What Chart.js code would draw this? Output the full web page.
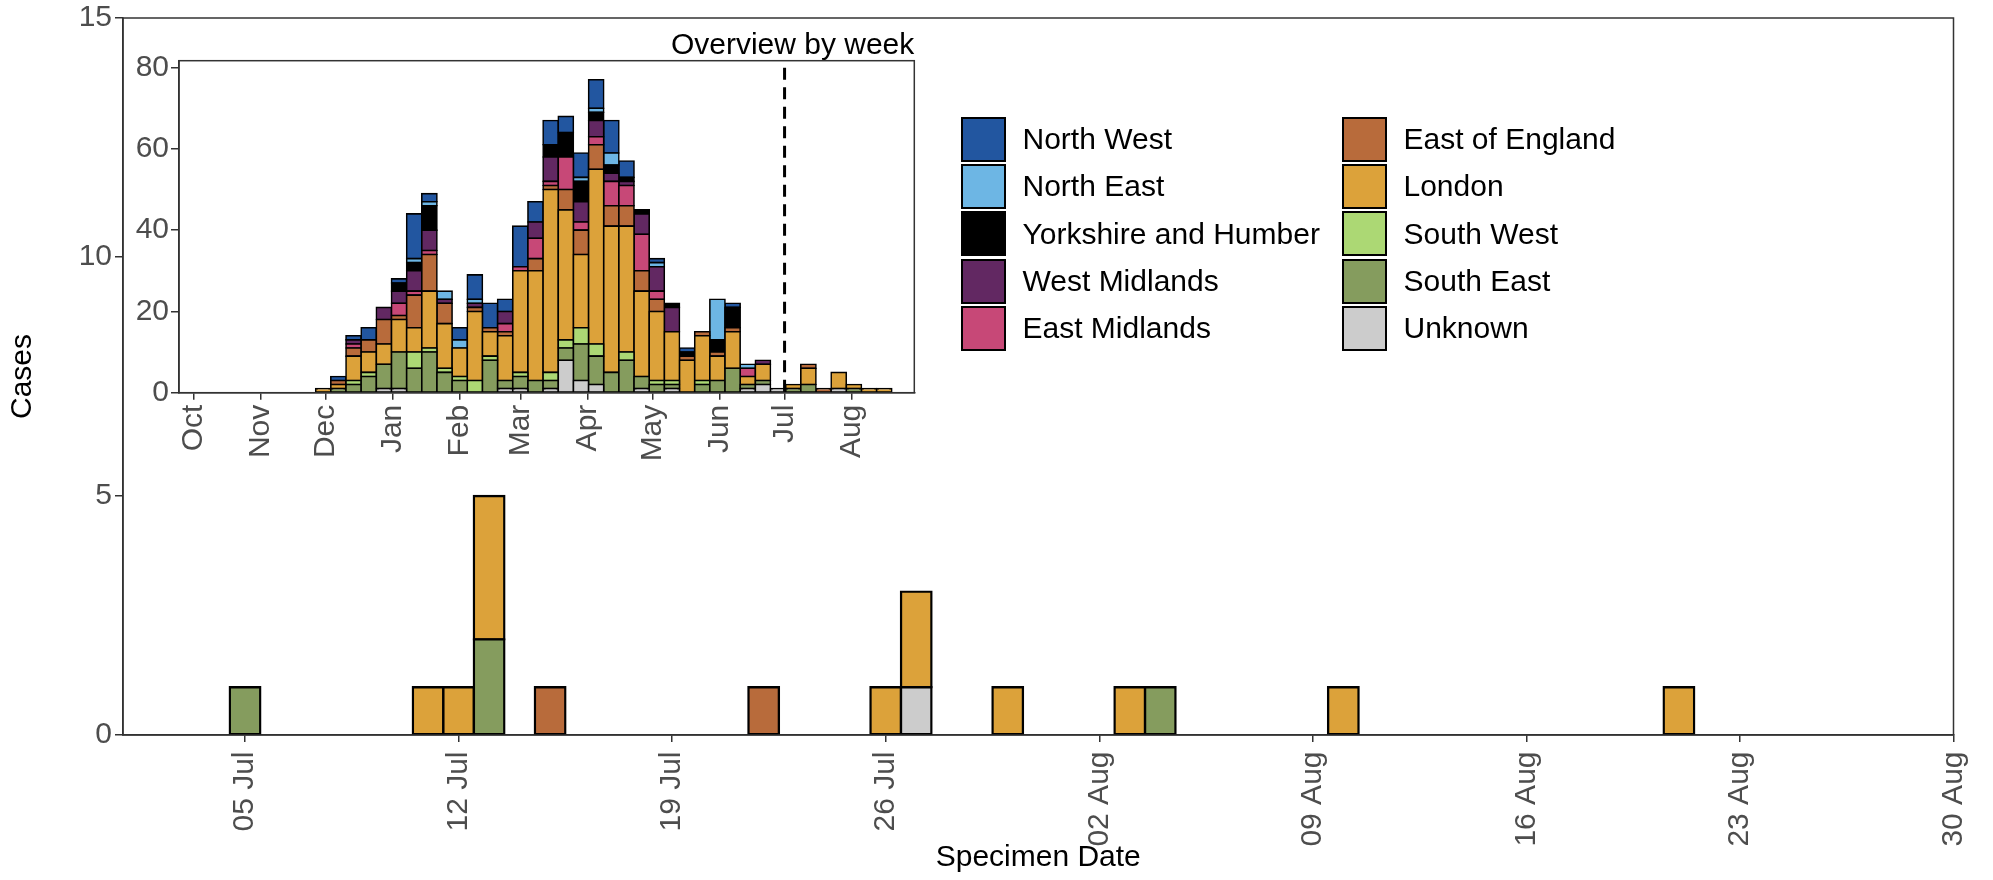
<!DOCTYPE html>
<html>
<head>
<meta charset="utf-8">
<title>Cases by specimen date</title>
<script src="https://cdn.jsdelivr.net/npm/chart.js@4.4.1/dist/chart.umd.min.js"></script>
<style>
  html, body { margin: 0; padding: 0; background: #fff; }
  #wrap { position: relative; width: 1993px; height: 880px; overflow: hidden;
          font-family: "Liberation Sans", Arial, sans-serif; }
  #main-chart { position: absolute; left: 0; top: 0; }
  #inset-chart { position: absolute; left: 95px; top: 20px; }
  #legend { position: absolute; left: 961px; top: 115.5px;
            display: grid; grid-auto-flow: column;
            grid-template-columns: 381px auto; grid-template-rows: repeat(5, 47.3px); }
  .key { display: flex; align-items: center; font-size: 30px; color: #000; white-space: nowrap; }
  .swatch { width: 41px; height: 41px; border: 2px solid #000; margin-right: 16.5px; }
</style>
</head>
<body>
<div id="wrap">
  <canvas id="main-chart" width="1993" height="880"></canvas>
  <canvas id="inset-chart" width="840" height="440"></canvas>
  <div id="legend"></div>
</div>
<script>
/**
 * Daily cases since 1 July with a weekly overview inset
 */

// Regions in legend order; stacks are drawn from the last one upwards
const regions = ['North West', 'North East', 'Yorkshire and Humber', 'West Midlands', 'East Midlands',
                 'East of England', 'London', 'South West', 'South East', 'Unknown'];
const regionColours = ['#2256a0', '#6db6e4', '#000000', '#622862', '#c74877',
                       '#b86b3b', '#dca23a', '#acd874', '#859c5e', '#cccccc'];

// Main panel: daily counts (only days with cases)
const dailyDates = ['05 Jul', '11 Jul', '12 Jul', '13 Jul', '15 Jul', '22 Jul', '26 Jul',
                    '27 Jul', '30 Jul', '03 Aug', '04 Aug', '10 Aug', '21 Aug'];
const dailyUnknown       = [0, 0, 0, 0, 0, 0, 0, 1, 0, 0, 0, 0, 0];
const dailySouthEast     = [1, 0, 0, 2, 0, 0, 0, 0, 0, 0, 1, 0, 0];
const dailyLondon        = [0, 1, 1, 3, 0, 0, 1, 2, 1, 1, 0, 1, 1];
const dailyEastOfEngland = [0, 0, 0, 0, 1, 1, 0, 0, 0, 0, 0, 0, 0];

const mainRange = ['01 Jul', '30 Aug'];
const mainTickLabels = ['05 Jul', '12 Jul', '19 Jul', '26 Jul', '02 Aug', '09 Aug', '16 Aug', '23 Aug', '30 Aug'];
const mainYTicks = [0, 5, 10, 15];

// Inset: weekly counts, one value per week starting 30 Nov
const firstWeek = '30 Nov';
const weeklyNorthWest     = [0,1,1,3,0,1,11,2,0,3, 6,6,3,10,5,6,4,6,7,8, 4,0,1,0,1,0,0,1,0,0, 0,0,0,0,0,0,0,0];
const weeklyNorthEast     = [0,0,0,0,0,0,1,1,2,2, 1,0,0,0,0,0,0,1,1,3, 0,0,1,0,0,0,10,0,1,0, 0,0,0,0,0,0,0,0];
const weeklyYorkshire     = [0,0,0,0,0,2,2,6,0,0, 0,0,0,0,0,3,6,5,2,2, 1,1,0,1,1,0,3,5,0,0, 0,0,0,0,0,0,0,0];
const weeklyWestMidlands  = [0,0,1,0,3,3,5,5,1,0, 1,0,3,0,4,6,0,5,4,2, 1,5,6,6,0,0,0,0,0,1, 0,0,0,0,0,0,0,0];
const weeklyEastMidlands  = [0,0,1,0,0,3,1,1,0,0, 0,0,2,1,5,1,8,2,2,6, 5,9,2,0,0,0,0,0,2,0, 0,0,0,0,0,0,0,0];
const weeklyEastOfEngland = [0,1,2,3,6,1,8,9,5,0, 1,1,1,0,3,1,5,6,6,5, 5,5,3,0,1,1,1,1,0,0, 0,0,1,1,0,0,0,0];
const weeklyLondon        = [1,1,6,5,5,8,6,14,11,7, 17,6,11,25,27,45,32,18,43,36, 31,21,17,12,8,11,6,9,2,4, 0,1,4,0,4,1,1,1];
const weeklySouthWest     = [0,0,1,1,0,0,4,1,1,1, 3,1,0,1,0,2,2,4,3,0, 2,0,1,1,0,1,0,0,0,0, 0,0,0,0,0,0,0,0];
const weeklySouthEast     = [0,1,2,4,6,9,6,10,5,3, 0,8,2,3,3,2,3,9,7,5, 8,3,2,1,0,2,3,6,1,1, 0,1,2,0,0,1,0,0];
const weeklyUnknown       = [0,0,0,0,1,1,0,0,0,0, 0,0,1,1,0,1,8,3,2,0, 0,1,0,1,0,0,0,0,1,2, 1,0,0,0,1,0,0,0];

const insetMonths = ['Oct', 'Nov', 'Dec', 'Jan', 'Feb', 'Mar', 'Apr', 'May', 'Jun', 'Jul', 'Aug'];
const insetMonthLengths = [31, 30, 31, 31, 28, 31, 30, 31, 30, 31, 31];
const insetYTicks = [0, 20, 40, 60, 80];
const cutoffMonth = 'Jul';

const dailySeries = {
  'Unknown': dailyUnknown,
  'South East': dailySouthEast,
  'London': dailyLondon,
  'East of England': dailyEastOfEngland
};
const weeklySeries = [weeklyNorthWest, weeklyNorthEast, weeklyYorkshire, weeklyWestMidlands, weeklyEastMidlands,
                      weeklyEastOfEngland, weeklyLondon, weeklySouthWest, weeklySouthEast, weeklyUnknown];

const AXIS = '#333333';
const TICK_TEXT = '#4d4d4d';
Chart.defaults.font.family = '"Liberation Sans", Arial, sans-serif';
Chart.defaults.font.size = 30;

// Day helpers
const monthStarts = {};
insetMonths.reduce((acc, m, i) => { monthStarts[m] = acc; return acc + insetMonthLengths[i]; }, 0);

function insetDay(label) {
  const [d, m] = label.split(' ');
  return monthStarts[m] + Number(d) - 1;
}

function mainDay(label) {
  return insetDay(label) - insetDay(mainRange[0]);
}

/**
 * Outline round the plotting panel
 */
const panelBorder = {
  id: 'panelBorder',
  afterDatasetsDraw(chart) {
    const { ctx, chartArea: a } = chart;
    ctx.save();
    ctx.strokeStyle = AXIS;
    ctx.lineWidth = 1.5;
    ctx.strokeRect(a.left, a.top, a.right - a.left, a.bottom - a.top);
    ctx.restore();
  }
};

/**
 * Dashed marker where the main panel starts
 */
const cutoffLine = {
  id: 'cutoffLine',
  afterDatasetsDraw(chart) {
    const { ctx, chartArea: a } = chart;
    const x = chart.scales.x.getPixelForValue(monthStarts[cutoffMonth]);
    ctx.save();
    ctx.strokeStyle = '#000';
    ctx.lineWidth = 3;
    ctx.setLineDash([12, 7.5]);
    ctx.beginPath();
    ctx.moveTo(x, a.top + 7);
    ctx.lineTo(x, a.bottom);
    ctx.stroke();
    ctx.restore();
  }
};

function axisGrid(tickLength) {
  return { display: true, drawOnChartArea: false, drawTicks: true, tickLength, color: AXIS, lineWidth: 1.5, offset: false };
}

/**
 * Render main daily chart
 */
function renderMainChart() {
  const ctx = document.getElementById('main-chart').getContext('2d');
  const stackOrder = regions.slice().reverse();

  const datasets = stackOrder
    .filter(r => dailySeries[r])
    .map(r => ({
      label: r,
      data: dailyDates.map((d, i) => ({ x: mainDay(d), y: dailySeries[r][i] || null })),
      backgroundColor: regionColours[regions.indexOf(r)],
      borderColor: '#000',
      borderWidth: 2.4,
      inflateAmount: 1.2,
      borderSkipped: false,
      barPercentage: 1,
      categoryPercentage: 1
    }));

  new Chart(ctx, {
    type: 'bar',
    data: { datasets },
    options: {
      responsive: false,
      animation: false,
      layout: { padding: { top: 16, right: 37, left: 0, bottom: 0 } },
      plugins: { legend: { display: false }, tooltip: { enabled: false } },
      scales: {
        x: {
          type: 'linear',
          stacked: true,
          offset: false,
          min: mainDay(mainRange[0]),
          max: mainDay(mainRange[1]),
          afterBuildTicks: s => { s.ticks = mainTickLabels.map(l => ({ value: mainDay(l) })); },
          afterFit: s => { s.height = 145; },
          ticks: {
            autoSkip: false, minRotation: 90, maxRotation: 90, padding: 9.5, color: TICK_TEXT,
            font: { lineHeight: 1 },
            callback: (v, i) => mainTickLabels[i]
          },
          grid: axisGrid(7),
          border: { display: true, color: AXIS, width: 1.5 },
          title: { display: true, text: 'Specimen Date', color: '#000', padding: { top: 0, bottom: 4 } }
        },
        y: {
          stacked: true,
          min: mainYTicks[0],
          max: mainYTicks[mainYTicks.length - 1],
          afterBuildTicks: s => { s.ticks = mainYTicks.map(v => ({ value: v })); },
          afterFit: s => { s.width = 123; },
          ticks: { padding: 3, color: TICK_TEXT, font: { lineHeight: 1 } },
          grid: axisGrid(8),
          border: { display: true, color: AXIS, width: 1.5 },
          title: { display: true, text: 'Cases', color: '#000', padding: { top: 5, bottom: 0 } }
        }
      }
    },
    plugins: [panelBorder]
  });
}

/**
 * Render weekly overview inset
 */
function renderInsetChart() {
  const ctx = document.getElementById('inset-chart').getContext('2d');
  const weekStarts = weeklyLondon.map((_, i) => insetDay(firstWeek) + 7 * i);

  const datasets = regions.slice().reverse().map(r => {
    const idx = regions.indexOf(r);
    const values = weeklySeries[idx];
    return {
      label: r,
      data: weekStarts.map((w, i) => ({ x: w, y: values[i] || null })),
      backgroundColor: regionColours[idx],
      borderColor: '#000',
      borderWidth: 1.6,
      inflateAmount: 0.8,
      borderSkipped: false,
      barPercentage: 1,
      categoryPercentage: 1
    };
  });

  new Chart(ctx, {
    type: 'bar',
    data: { datasets },
    options: {
      responsive: false,
      animation: false,
      layout: { padding: { top: 10.7, right: 20.7, left: 0, bottom: 0 } },
      plugins: {
        legend: { display: false },
        tooltip: { enabled: false },
        title: {
          display: true, text: 'Overview by week', align: 'end', fullSize: false, color: '#000',
          font: { size: 30, weight: 'normal', lineHeight: 1 }, padding: 0
        }
      },
      scales: {
        x: {
          type: 'linear',
          stacked: true,
          offset: false,
          min: -6.6,
          max: 332.9,
          afterBuildTicks: s => { s.ticks = insetMonths.map(m => ({ value: monthStarts[m] })); },
          afterFit: s => { s.height = 67.3; },
          ticks: {
            autoSkip: false, minRotation: 90, maxRotation: 90, padding: 5, color: TICK_TEXT,
            font: { lineHeight: 1 },
            callback: (v, i) => insetMonths[i]
          },
          grid: axisGrid(7),
          border: { display: true, color: AXIS, width: 1.5 }
        },
        y: {
          stacked: true,
          min: 0,
          max: 81.7,
          afterBuildTicks: s => { s.ticks = insetYTicks.map(v => ({ value: v })); },
          afterFit: s => { s.width = 84; },
          ticks: { padding: 2, color: TICK_TEXT },
          grid: axisGrid(8),
          border: { display: true, color: AXIS, width: 1.5 }
        }
      }
    },
    plugins: [panelBorder, cutoffLine]
  });
}

/**
 * Two-column region key
 */
function renderLegend() {
  const box = document.getElementById('legend');
  regions.forEach((r, i) => {
    const item = document.createElement('div');
    item.className = 'key';
    const sw = document.createElement('span');
    sw.className = 'swatch';
    sw.style.background = regionColours[i];
    item.appendChild(sw);
    item.appendChild(document.createTextNode(r));
    box.appendChild(item);
  });
}

renderMainChart();
renderInsetChart();
renderLegend();
</script>
</body>
</html>
